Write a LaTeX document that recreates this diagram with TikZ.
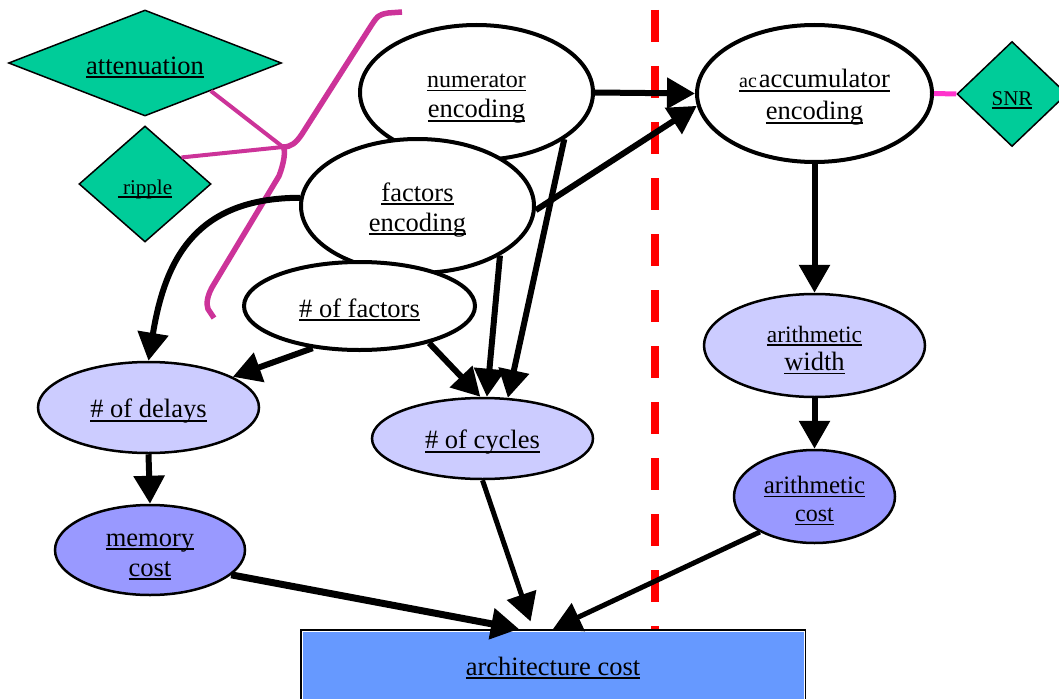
\documentclass[tikz,border=0pt]{standalone}
\usepackage{fontspec}
\setmainfont{Liberation Serif}
\newfontfamily\tnr{Liberation Serif}
\usetikzlibrary{shapes.geometric,arrows.meta}

\definecolor{dgreen}{RGB}{0,204,153}
\definecolor{lav}{RGB}{204,204,255}
\definecolor{lavdark}{RGB}{153,153,255}
\definecolor{costblue}{RGB}{102,153,255}
\definecolor{plum}{RGB}{204,51,153}
\definecolor{hotpink}{RGB}{255,51,204}

% serif font size with matching line spacing
\newcommand\setfs[2]{\tnr\fontsize{#2}{#1}\selectfont}
% thick underline below the baseline
\newcommand\ulw[1]{\begingroup\setbox0\hbox{#1}\rlap{\vrule height -0.08em depth 0.15em width \wd0}\box0\endgroup}
% invisible strut that lowers a two-line label a little
\newcommand\lowr{\rule{0pt}{26pt}}

\tikzset{
  ell/.style={ellipse, draw, inner sep=0pt, align=center},
  plainell/.style={ell, fill=white, line width=4pt},
  lavell/.style={ell, fill=lav, line width=2.5pt},
  darkell/.style={ell, fill=lavdark, line width=2.5pt},
  dia/.style={diamond, draw, fill=dgreen, line width=1.5pt, inner sep=0pt},
  arr/.style={line width=6pt, -{Triangle[length=28pt,width=30pt]}},
  thinlink/.style={plum, line width=4pt},
}

\begin{document}
\begin{tikzpicture}[x=1pt, y=-1pt, font={\setfs{30}{26.5}}]
\useasboundingbox (0,0) rectangle (1059,698);

% dividing line
\coordinate (dtop) at (655,10);
\coordinate (dbot) at (655,630);
\draw[red, line width=8pt, dash pattern=on 32pt off 24pt] (dtop) -- (dbot);

% constraints
\node[dia, minimum width=273pt, minimum height=106pt, shape aspect=2.58] (at) at (145,63) {\lowr\ulw{attenuation}};
\node[dia, minimum width=132pt, minimum height=116pt, shape aspect=1.14, font={\setfs{24}{21}}] (rp) at (145,184) {\lowr\ulw{\ ripple}};
\node[dia, minimum width=110pt, minimum height=105pt, shape aspect=1.05, font={\setfs{24}{21}}] (snr) at (1012,94) {\lowr\ulw{SNR}};

% spec boundary curve
\coordinate (jn) at (283,147);
\coordinate (mgtop) at (402,12);
\coordinate (mgbot) at (214,318);
\draw[thinlink] (at.-23) -- (jn);
\draw[thinlink] (rp.36) -- (jn);
\draw[plum, line width=5.5pt, line join=round]
  (mgtop) -- (388,13) .. controls (378,15) .. (369,29) -- (302,134)
  .. controls (296,143) and (291,147) .. (jn)
  .. controls (286,150) and (284,163) .. (279,176) -- (214,284)
  .. controls (207,295) and (206,304) .. (208,309) -- (mgbot);

% encodings
\node[plainell, minimum width=233pt, minimum height=135pt] (ne) at (476.5,92.5)
  {\lowr{\setfs{30}{24}\ulw{numerator}}\\\ulw{encoding}};
\node[plainell, minimum width=233pt, minimum height=134pt] (fe) at (417.5,206)
  {\lowr\ulw{factors}\\\ulw{encoding}};
\node[plainell, minimum width=231pt, minimum height=88pt] (nf) at (359.5,306)
  {\lowr\ulw{\# of factors}};
\node[plainell, minimum width=235pt, minimum height=137pt, font={\setfs{32}{26.5}}] (ae) at (814.5,93.5)
  {\lowr\ulw{{\setfs{24}{20}ac}\kern2pt accumulator}\\\ulw{encoding}};

% derived quantities
\node[lavell, minimum width=221pt, minimum height=91pt] (dl) at (148.5,407.5) {\lowr\ulw{\# of delays}};
\node[lavell, minimum width=221pt, minimum height=81pt] (cy) at (482.5,438.5) {\lowr\ulw{\# of cycles}};
\node[lavell, minimum width=221pt, minimum height=103pt, font={\setfs{28}{26.5}}] (aw) at (814.5,345.5)
  {\lowr{\setfs{28}{23.5}\ulw{arithmetic}}\\\ulw{width}};
\node[darkell, minimum width=190pt, minimum height=90pt] (mc) at (150,550)
  {\lowr\ulw{memory}\\\ulw{cost}};
\node[darkell, minimum width=161pt, minimum height=93pt, font={\setfs{28}{25}}] (ak) at (814.5,496.5)
  {\lowr\ulw{arithmetic}\\{\setfs{28}{24}\ulw{cost}}};

% total cost, with a thin white rim inside the frame
\node[rectangle, draw, fill=costblue, line width=2pt, minimum width=504pt, minimum height=76pt, inner sep=0pt]
  (ac) at (553,668) {\ulw{architecture cost}};
\draw[white, line width=1pt] ([xshift=2pt,yshift=-2pt]ac.north west) -- ([xshift=-2pt,yshift=-2pt]ac.north east);
\draw[white, line width=1pt] ([xshift=2pt,yshift=-2pt]ac.north west) -- ([xshift=2pt]ac.south west);
\draw[white, line width=1pt] ([xshift=-2pt,yshift=-2pt]ac.north east) -- ([xshift=-2pt]ac.south east);

% links
\draw[hotpink, line width=5pt] (ae.east) -- (snr.west);

\draw[arr] (ne.east) -- (ae.west);
\draw[arr] (fe.-2) -- (ae.186);
\draw[arr] (fe.176) .. controls (195,198) and (165,260) .. (dl.north);
\draw[arr] (ne.-28) -- (cy.58);
\draw[arr] (fe.-31) -- (cy.84);
\draw[arr] (nf.-28) -- (cy.93);
\draw[arr] (nf.222) -- (dl.20);
\draw[arr] (dl.south) -- (mc.north);
\draw[arr, line width=7pt] (mc.-17) -- (ac.131);
\draw[arr, line width=5pt, shorten >=8pt] (cy.south) -- (ac.117);
\draw[arr, line width=5pt] (ak.213) -- (ac.north);
\draw[arr] (ae.south) -- (aw.north);
\draw[arr] (aw.south) -- (ak.north);
\end{tikzpicture}
\end{document}
